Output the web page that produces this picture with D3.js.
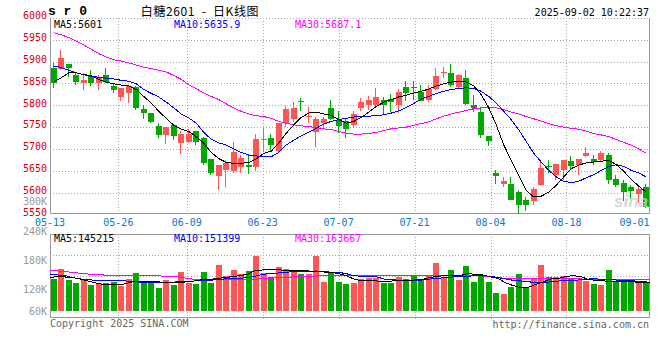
<!DOCTYPE html>
<html>
<head>
<meta charset="utf-8">
<script src="https://cdn.jsdelivr.net/npm/d3@7"></script>
<style>
  body { margin: 0; background: #fff; }
  svg text { font-family: "DejaVu Sans Mono", "Liberation Mono", monospace; font-size: 10px; }
</style>
</head>
<body>
<svg id="chart" width="660" height="360"></svg>
<script>
// trading days shown on the chart
const dates = [
  "05-13","05-14","05-15","05-16","05-19","05-20","05-21","05-22","05-23","05-26",
  "05-27","05-28","05-29","05-30","06-03","06-04","06-05","06-06","06-09","06-10",
  "06-11","06-12","06-13","06-16","06-17","06-18","06-19","06-20","06-23","06-24",
  "06-25","06-26","06-27","06-30","07-01","07-02","07-03","07-04","07-07","07-08",
  "07-09","07-10","07-11","07-14","07-15","07-16","07-17","07-18","07-21","07-22",
  "07-23","07-24","07-25","07-28","07-29","07-30","07-31","08-01","08-04","08-05",
  "08-06","08-07","08-08","08-11","08-12","08-13","08-14","08-15","08-18","08-19",
  "08-20","08-21","08-22","08-25","08-26","08-27","08-28","08-29","09-01","09-02"
];
const tickDates = ["05-13","05-26","06-09","06-23","07-07","07-21","08-04","08-18","09-01"];
const priceTicks = [5550, 5600, 5650, 5700, 5750, 5800, 5850, 5900, 5950, 6000];
const volTicks = [60000, 120000, 180000, 240000, 300000];

const open = [5886,5882,5895,5869,5850,5867,5851,5868,5844,5819,5828,5841,5791,5782,5753,5732,5754,5713,5715,5740,
  5726,5678,5637,5651,5649,5658,5664,5658,5720,5724,5695,5759,5769,5810,5774,5738,5759,5794,5767,5765,
  5755,5794,5801,5801,5813,5814,5801,5842,5842,5830,5813,5836,5874,5874,5841,5863,5800,5784,5730,5646,
  5620,5620,5601,5584,5580,5617,5660,5641,5651,5673,5663,5684,5678,5674,5686,5632,5623,5612,5597,5614];
const high = [5897,5927,5895,5876,5874,5880,5870,5886,5851,5839,5847,5844,5800,5782,5759,5750,5754,5741,5745,5740,
  5728,5678,5664,5674,5715,5687,5686,5734,5747,5734,5759,5799,5807,5817,5796,5774,5774,5813,5786,5770,
  5786,5817,5820,5840,5818,5826,5836,5855,5855,5846,5847,5886,5887,5895,5872,5880,5824,5794,5730,5651,
  5636,5636,5605,5590,5613,5670,5674,5665,5674,5684,5677,5704,5687,5695,5690,5640,5628,5617,5617,5620];
const low = [5840,5880,5864,5847,5835,5845,5835,5851,5827,5810,5805,5790,5769,5759,5724,5711,5720,5688,5713,5709,
  5663,5641,5607,5613,5644,5644,5642,5649,5694,5695,5692,5751,5761,5786,5759,5705,5747,5767,5737,5724,
  5747,5786,5790,5797,5780,5784,5782,5810,5813,5809,5807,5834,5863,5841,5838,5800,5784,5724,5707,5620,
  5613,5584,5551,5559,5572,5615,5646,5630,5630,5651,5641,5682,5663,5672,5620,5613,5582,5586,5577,5565];
const close = [5851,5909,5886,5854,5857,5850,5865,5854,5834,5839,5844,5794,5782,5761,5732,5750,5730,5735,5735,5717,
  5667,5646,5664,5667,5692,5680,5658,5722,5723,5709,5759,5791,5794,5807,5776,5768,5768,5769,5753,5746,
  5780,5807,5813,5818,5801,5807,5830,5827,5840,5810,5836,5867,5877,5847,5869,5803,5794,5732,5718,5638,
  5627,5584,5572,5572,5609,5657,5658,5665,5674,5660,5676,5691,5669,5690,5630,5618,5601,5603,5609,5568];

// moving averages
const ma5 = [5854,5863,5874,5874,5870,5868,5859,5853,5849,5846,5844,5836,5820,5805,5786,5770,5754,5745,5740,5728,
  5713,5692,5678,5669,5667,5667,5669,5677,5690,5695,5713,5736,5755,5772,5782,5784,5780,5777,5767,5759,
  5763,5772,5784,5797,5807,5813,5819,5823,5828,5832,5837,5844,5849,5853,5855,5853,5844,5824,5794,5755,
  5709,5674,5640,5605,5590,5592,5601,5617,5636,5655,5663,5668,5670,5672,5674,5664,5649,5630,5615,5601];
const ma10 = [5890,5886,5880,5874,5870,5866,5864,5862,5860,5857,5855,5849,5836,5827,5819,5807,5794,5780,5771,5759,
  5738,5722,5714,5709,5700,5692,5686,5684,5682,5682,5692,5709,5720,5730,5738,5747,5757,5763,5767,5770,
  5773,5774,5775,5776,5778,5782,5787,5795,5804,5814,5820,5827,5832,5836,5838,5840,5838,5832,5820,5805,
  5786,5767,5744,5717,5690,5670,5651,5636,5626,5623,5626,5634,5641,5651,5660,5664,5660,5651,5645,5636];
const ma30 = [5966,5961,5955,5947,5938,5928,5918,5910,5904,5901,5897,5892,5887,5884,5880,5876,5868,5859,5847,5838,
  5828,5820,5813,5803,5794,5786,5780,5776,5774,5770,5763,5759,5755,5753,5751,5749,5746,5744,5740,5736,
  5734,5734,5735,5738,5742,5746,5748,5750,5754,5758,5762,5769,5775,5780,5784,5788,5792,5794,5795,5794,
  5790,5784,5780,5774,5769,5764,5758,5753,5750,5747,5745,5741,5735,5732,5728,5722,5715,5709,5700,5690];

// volume, in thousands of lots
const vol = [162.8,213.7,157.7,142.4,156.2,132.3,142.4,142.4,149.0,128.7,162.8,193.3,142.4,146.0,118.5,159.2,132.3,199.9,142.4,138.9,
  199.9,142.4,234.0,179.6,210.1,186.7,205.0,279.8,191.8,173.0,223.8,213.7,210.1,188.2,188.2,279.8,149.0,191.8,149.0,137.3,
  142.4,162.8,169.4,169.4,142.4,142.4,174.5,162.8,183.1,162.8,183.1,244.2,174.5,208.6,157.7,228.9,147.5,183.1,147.5,91.6,
  86.5,123.6,188.2,122.1,162.8,234.0,173.0,173.0,179.6,166.3,157.7,152.6,137.3,132.3,208.6,152.6,162.8,146.0,142.4,142.4];
const volMa5 = [169.6,176.4,173.0,169.6,162.8,152.6,142.5,135.7,135.7,132.3,139.1,149.2,149.2,149.2,149.2,145.9,142.5,142.5,149.2,152.6,
  159.4,159.4,166.2,169.6,174.7,179.8,186.5,206.9,208.6,210.3,210.3,205.2,203.5,203.5,203.5,200.1,198.4,196.7,189.9,179.8,
  162.8,152.6,152.6,152.6,149.2,152.6,156.0,156.0,157.7,159.4,169.6,176.4,179.8,179.8,179.8,189.9,186.5,183.2,173.0,166.2,
  142.5,128.9,118.7,120.4,135.7,149.2,162.8,166.2,176.4,179.8,173.0,159.4,156.0,152.6,149.2,149.2,149.2,147.5,145.9,142.5];
const volMa10 = [188.2,183.2,179.8,169.6,162.8,159.4,156.0,152.6,152.6,152.6,152.6,149.2,145.9,142.5,142.5,142.5,145.9,149.2,149.2,152.6,
  156.0,156.0,159.4,162.8,162.8,166.2,169.6,176.4,186.5,189.9,193.3,196.7,200.1,200.1,200.1,203.5,201.8,196.7,196.7,189.9,
  179.8,176.4,176.4,173.0,162.8,159.4,156.0,156.0,156.0,157.7,162.8,166.2,169.6,173.0,173.0,176.4,179.8,179.8,176.4,169.6,
  162.8,156.0,152.6,149.2,142.5,142.5,149.2,152.6,156.0,156.0,159.4,162.8,162.8,161.1,159.4,156.0,152.6,152.6,149.2,145.9];
const volMa30 = [203.5,203.5,200.1,196.7,191.6,188.2,186.5,183.2,179.8,179.8,179.8,179.8,179.8,179.8,179.8,176.4,173.0,173.0,166.2,161.1,
  159.4,159.4,161.1,161.1,161.1,161.1,161.1,161.1,164.5,166.2,169.6,171.3,173.0,174.7,176.4,178.1,179.8,179.8,179.8,179.8,
  179.8,179.8,179.8,179.8,179.8,179.8,179.8,179.8,179.8,179.8,179.8,179.8,179.8,179.8,179.8,179.8,179.8,178.1,173.0,169.6,
  166.2,162.8,162.8,162.8,164.5,166.2,166.2,164.5,162.8,162.8,162.8,161.1,159.4,159.4,159.4,159.4,159.4,159.4,159.4,159.4];

const RED = "#ff5555", GREEN = "#00a800", GRID = "#a8a8a8", FRAME = "#999";
const left = 50, right = 650;
const pTop = 18, pBottom = 213.5, vTop = 234, vBottom = 317, vBase = 311;

const svg = d3.select("#chart");
const n = dates.length;

const x = d3.scaleBand().domain(d3.range(n)).range([left, right]).paddingInner(0.2).paddingOuter(0.1);
const xp = d3.scalePoint().domain(d3.range(n)).range([left, right]);
const xc = i => x(i) + x.bandwidth() / 2;
const y = d3.scaleLinear().domain([5550, 6000]).range([214.5, 17.8]);
const yv = d3.scaleLinear().domain([0, 300]).range([vBase, 252]);
const yvLabel = d3.scaleLinear().domain([120000, 240000]).range([289.3, 231]);
const vGrid = d3.scaleLinear().domain([0, 4]).range([vBottom, vTop]);

const tickIdx = tickDates.map(d => dates.indexOf(d));
const isUp = i => close[i] >= open[i];

// ----- grid -----
const grid = svg.append("g").attr("stroke", GRID).attr("stroke-dasharray", "1,2")
  .attr("shape-rendering", "crispEdges");

grid.selectAll(".hp").data(priceTicks.slice(1)).enter().append("line")
  .attr("x1", left).attr("x2", right)
  .attr("y1", d => Math.round(y(d)) + 0.5).attr("y2", d => Math.round(y(d)) + 0.5);

grid.selectAll(".hv").data([1, 2, 3]).enter().append("line")
  .attr("x1", left).attr("x2", right)
  .attr("y1", d => Math.round(vGrid(d)) + 0.5).attr("y2", d => Math.round(vGrid(d)) + 0.5);

const inner = tickIdx.slice(1, -1);
grid.selectAll(".vp").data(inner).enter().append("line")
  .attr("x1", d => Math.round(xp(d)) + 0.5).attr("x2", d => Math.round(xp(d)) + 0.5)
  .attr("y1", pTop).attr("y2", pBottom + 3);
grid.selectAll(".vv").data(inner).enter().append("line")
  .attr("x1", d => Math.round(xp(d)) + 0.5).attr("x2", d => Math.round(xp(d)) + 0.5)
  .attr("y1", vTop).attr("y2", vBottom + 3);

// ----- frames -----
const fr = svg.append("g").attr("stroke", FRAME).attr("fill", "none").attr("shape-rendering", "crispEdges");
fr.append("path").attr("d", `M${left + 0.5},${pTop}V${pBottom}H${right - 0.5}V${pTop}`);
fr.append("path").attr("d", `M${left + 0.5},${vTop + 0.5}H${right - 0.5}V${vBottom + 0.5}H${left + 0.5}Z`);

// ----- candles -----
const candles = svg.append("g").attr("shape-rendering", "crispEdges");
const cg = candles.selectAll("g").data(d3.range(n)).enter().append("g")
  .attr("fill", i => isUp(i) ? RED : GREEN);
cg.append("rect")
  .attr("x", i => Math.round(x(i)) + 2).attr("width", 1)
  .attr("y", i => y(high[i])).attr("height", i => Math.max(1, y(low[i]) - y(high[i])));
cg.append("rect")
  .attr("x", i => Math.round(x(i))).attr("width", 6)
  .attr("y", i => y(Math.max(open[i], close[i])))
  .attr("height", i => Math.max(1, Math.abs(y(open[i]) - y(close[i]))));

// ----- moving averages, price -----
const lineP = arr => d3.line().x((d, i) => xc(i)).y(d => y(d))(arr);
const maColors = ["#000", "#0000ff", "#ff00ff"];
[ma30, ma10, ma5].forEach((arr, k) => {
  svg.append("path").attr("d", lineP(arr)).attr("fill", "none")
    .attr("stroke", maColors[2 - k]).attr("stroke-width", 1).attr("shape-rendering", "crispEdges");
});

// ----- volume bars -----
svg.append("g").attr("shape-rendering", "crispEdges")
  .selectAll("rect").data(vol).enter().append("rect")
  .attr("x", (d, i) => Math.round(x(i))).attr("width", 6)
  .attr("y", d => yv(d)).attr("height", d => vBase - yv(d))
  .attr("fill", (d, i) => isUp(i) ? RED : GREEN);

const lineV = arr => d3.line().x((d, i) => xp(i)).y(d => yv(d))(arr);
[volMa30, volMa10, volMa5].forEach((arr, k) => {
  svg.append("path").attr("d", lineV(arr)).attr("fill", "none")
    .attr("stroke", maColors[2 - k]).attr("stroke-width", 1).attr("shape-rendering", "crispEdges");
});

// ----- axis labels -----
svg.append("g").selectAll("text").data(priceTicks).enter().append("text")
  .attr("x", 47).attr("y", d => y(d) - 2.2)
  .attr("text-anchor", "end").attr("dominant-baseline", "central")
  .attr("fill", "#dd0000").text(d => d);

svg.append("g").selectAll("text").data(volTicks).enter().append("text")
  .attr("x", 47).attr("y", d => Math.min(311, yvLabel(d)))
  .attr("text-anchor", "end").attr("dominant-baseline", "central")
  .attr("fill", "#999").text(d => (d / 1000) + "K");

svg.append("g").selectAll("text").data(tickIdx).enter().append("text")
  .attr("x", d => Math.min(xp(d), right - 15.5)).attr("y", 222)
  .attr("text-anchor", "middle").attr("dominant-baseline", "central")
  .attr("fill", "#0a78c8").text(d => dates[d]);

// ----- header texts -----
svg.append("text").attr("x", 48).attr("y", 11).attr("dominant-baseline", "central")
  .style("font-family", "'Liberation Mono', monospace").style("font-weight", "bold").style("font-size", "13px")
  .text("s r 0");
svg.append("text").attr("x", 200).attr("y", 10).attr("text-anchor", "middle").attr("dominant-baseline", "central")
  .style("font-family", "'Noto Sans CJK SC', sans-serif").style("font-size", "12px")
  .style("letter-spacing", "0.6px")
  .text("白糖2601 \u00a0-\u00a0 日K线图");
svg.append("text").attr("x", 649).attr("y", 12).attr("text-anchor", "end").attr("dominant-baseline", "central")
  .text("2025-09-02 10:22:37");

const maLabels = [
  { t: "MA5:5601", x: 54, c: "#000" },
  { t: "MA10:5635.9", x: 174, c: "#0000ff" },
  { t: "MA30:5687.1", x: 295, c: "#ff00ff" }
];
svg.append("g").selectAll("text").data(maLabels).enter().append("text")
  .attr("x", d => d.x).attr("y", 24.5).attr("dominant-baseline", "central")
  .attr("fill", d => d.c).text(d => d.t);

const volLabels = [
  { t: "MA5:145215", x: 54, c: "#000" },
  { t: "MA10:151399", x: 174, c: "#0000ff" },
  { t: "MA30:163667", x: 295, c: "#ff00ff" }
];
svg.append("g").selectAll("text").data(volLabels).enter().append("text")
  .attr("x", d => d.x).attr("y", 238.5).attr("dominant-baseline", "central")
  .attr("fill", d => d.c).text(d => d.t);

// ----- footer + watermark -----
svg.append("text").attr("x", 50).attr("y", 323.5).attr("dominant-baseline", "central")
  .attr("fill", "#666").text("Copyright 2025 SINA.COM");
svg.append("text").attr("x", 649).attr("y", 324).attr("text-anchor", "end").attr("dominant-baseline", "central")
  .attr("fill", "#666").text("http://finance.sina.com.cn");
svg.append("text").attr("x", 648).attr("y", 207).attr("text-anchor", "end")
  .style("font-family", "'Liberation Sans', sans-serif").style("font-size", "17px")
  .style("font-style", "italic").style("font-weight", "bold")
  .attr("fill", "#cfcfcf").attr("opacity", 0.8).text("sina");
</script>
</body>
</html>
